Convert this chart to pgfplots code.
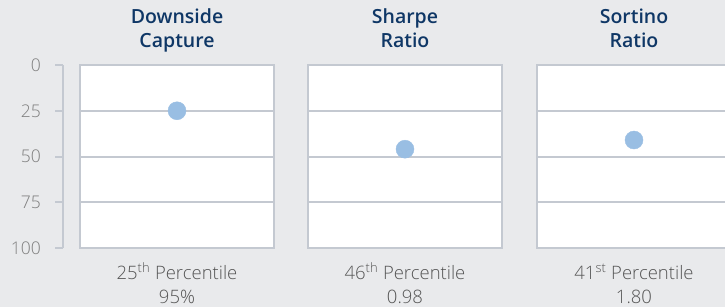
\documentclass[border=0pt]{standalone}
\usepackage{fontspec}
\setmainfont{Open Sans}
\newfontfamily\lightfont{Open Sans Light}
\newfontfamily\semifont{Open Sans Semibold}
\usepackage{pgfplots}
\pgfplotsset{compat=1.18}
\definecolor{bg}{HTML}{E9EAEC}
\definecolor{bord}{HTML}{C4C9D1}
\definecolor{ttl}{HTML}{0F3766}
\definecolor{dot}{HTML}{99BEE3}
\definecolor{btxt}{HTML}{555555}
\definecolor{tkl}{HTML}{7F7F7F}
\pgfplotsset{
  panel/.style={
    scale only axis, width=194pt, height=183pt,
    xmin=0, xmax=1, ymin=0, ymax=100, y dir=reverse,
    axis background/.style={fill=white},
    axis line style={bord, line width=2pt},
    ytick={25,50,75}, yticklabels={}, xtick=\empty,
    major tick length=0pt,
    ymajorgrids, grid style={bord, line width=2pt},
    clip=false,
  },
  pt/.style={only marks, mark=*, mark size=9pt, color=dot, mark options={draw=dot, fill=dot}},
}
\newcommand{\tfont}{\semifont\fontsize{19.5}{22}\selectfont\color{ttl}}
\newcommand{\bfont}{\lightfont\fontsize{18.5}{22}\selectfont\color{btxt}}
\begin{document}
\begin{tikzpicture}[x=1pt,y=1pt]
\path[use as bounding box, fill=bg] (0,0) rectangle (725,-307);
\clip (0,0) rectangle (725,-307);
% y scale axis
\begin{axis}[
  at={(63pt,-248pt)}, anchor=south west,
  scale only axis, width=1pt, height=183pt,
  xmin=0, xmax=1, ymin=0, ymax=100, y dir=reverse,
  axis y line=left, hide x axis,
  axis line style={-, bord, line width=2pt},
  ytick={0,25,50,75,100},
  tick align=outside, major tick length=8pt,
  tick style={bord, line width=2pt},
  /pgf/number format/assume math mode=true,
  yticklabel style={font=\lightfont\fontsize{17.5}{20}\selectfont, text=tkl, inner sep=0pt, anchor=east, xshift=-14pt},
]
\addplot[draw=none] coordinates {(0,0)};
\end{axis}
\begin{axis}[panel, at={(80pt,-248pt)}, anchor=south west]
\addplot[pt] coordinates {(0.5,25)};
\end{axis}
\begin{axis}[panel, at={(308pt,-248pt)}, anchor=south west]
\addplot[pt] coordinates {(0.5,46)};
\end{axis}
\begin{axis}[panel, at={(537pt,-248pt)}, anchor=south west]
\addplot[pt] coordinates {(0.5,41)};
\end{axis}
% titles
\node[anchor=base, inner sep=0pt] at (177,-24) {\tfont Downside};
\node[anchor=base, inner sep=0pt] at (177,-48) {\tfont Capture};
\node[anchor=base, inner sep=0pt] at (405,-24) {\tfont Sharpe};
\node[anchor=base, inner sep=0pt] at (405,-48) {\tfont Ratio};
\node[anchor=base, inner sep=0pt] at (634,-24) {\tfont Sortino};
\node[anchor=base, inner sep=0pt] at (634,-48) {\tfont Ratio};
% bottom labels
\node[anchor=base, inner sep=0pt] at (177,-279) {\bfont 25\textsuperscript{th} Percentile};
\node[anchor=base, inner sep=0pt] at (177,-303) {\bfont 95\%};
\node[anchor=base, inner sep=0pt] at (405,-279) {\bfont 46\textsuperscript{th} Percentile};
\node[anchor=base, inner sep=0pt] at (405,-303) {\bfont 0.98};
\node[anchor=base, inner sep=0pt] at (634,-279) {\bfont 41\textsuperscript{st} Percentile};
\node[anchor=base, inner sep=0pt] at (634,-303) {\bfont 1.80};
\end{tikzpicture}
\end{document}
